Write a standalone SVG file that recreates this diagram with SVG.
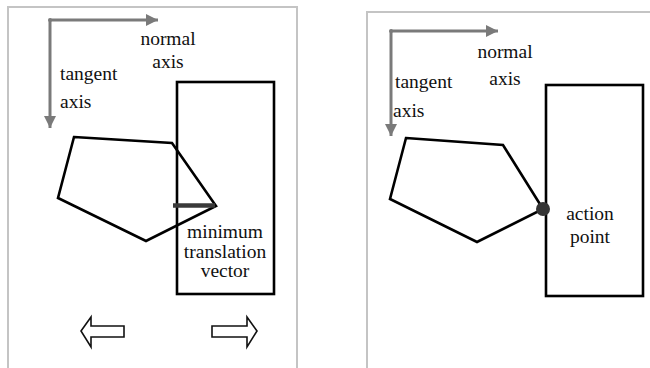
<svg xmlns="http://www.w3.org/2000/svg" width="650" height="368" viewBox="0 0 650 368">
  <defs>
    <style>
      .frame { fill: none; stroke: #c4c4c4; stroke-width: 2; }
      .axis { fill: none; stroke: #7a7a7a; stroke-width: 3; }
      .shape { fill: none; stroke: #000; stroke-width: 2.6; stroke-linejoin: miter; }
      .hollow { fill: #fff; stroke: #111; stroke-width: 1.6; stroke-linejoin: miter; }
      text { font-family: 'Liberation Serif', 'DejaVu Serif', serif; font-size: 19.5px; fill: #111; }
      .mid { text-anchor: middle; }
    </style>
    <marker id="axisHead" viewBox="0 0 10 10" refX="10" refY="5" markerWidth="4" markerHeight="4" orient="auto" markerUnits="strokeWidth">
      <path d="M0,0 L10,5 L0,10 Z" fill="#7a7a7a"/>
    </marker>
  </defs>

  <rect width="650" height="368" fill="#fff"/>

  <!-- left panel: overlap with minimum translation vector -->
  <g id="left-panel">
    <path class="frame" d="M8,369 V7 H297 V369"/>
    <g id="left-axes">
      <circle cx="50" cy="20" r="2" fill="#7a7a7a"/>
      <line class="axis" x1="50" y1="20" x2="158" y2="20" marker-end="url(#axisHead)"/>
      <line class="axis" x1="50" y1="20" x2="50" y2="128" marker-end="url(#axisHead)"/>
      <text class="mid" x="168" y="45" font-family="Liberation Serif, serif">normal</text>
      <text class="mid" x="168" y="68" font-family="Liberation Serif, serif">axis</text>
      <text x="60" y="80" font-family="Liberation Serif, serif">tangent</text>
      <text x="60" y="108" font-family="Liberation Serif, serif">axis</text>
    </g>
    <g id="left-rect">
      <rect class="shape" x="177" y="82" width="97" height="212"/>
    </g>
    <g id="left-polygon">
      <polygon class="shape" points="74,137 172,143 216,206 146,241 58,198"/>
    </g>
    <g id="mtv">
      <line x1="173" y1="205.5" x2="215" y2="205.5" stroke="#3a3a3a" stroke-width="4.5"/>
      <text class="mid" x="225" y="238" font-family="Liberation Serif, serif">minimum</text>
      <text class="mid" x="225" y="258" font-family="Liberation Serif, serif">translation</text>
      <text class="mid" x="225" y="277" font-family="Liberation Serif, serif">vector</text>
    </g>
    <g id="move-left">
      <polygon class="hollow" points="81,331 91,317 91,326 124,326 124,337 91,337 91,347"/>
    </g>
    <g id="move-right">
      <polygon class="hollow" points="257,331 247,317 247,326 212,326 212,337 247,337 247,347"/>
    </g>
  </g>

  <!-- right panel: touching contact with action point -->
  <g id="right-panel">
    <path class="frame" d="M367,369 V12 H651"/>
    <g id="right-axes">
      <circle cx="391" cy="31" r="2" fill="#7a7a7a"/>
      <line class="axis" x1="391" y1="31" x2="498" y2="31" marker-end="url(#axisHead)"/>
      <line class="axis" x1="391" y1="31" x2="391" y2="136" marker-end="url(#axisHead)"/>
      <text class="mid" x="505" y="58" font-family="Liberation Serif, serif">normal</text>
      <text class="mid" x="505" y="85" font-family="Liberation Serif, serif">axis</text>
      <text x="395" y="88" font-family="Liberation Serif, serif">tangent</text>
      <text x="393" y="117" font-family="Liberation Serif, serif">axis</text>
    </g>
    <g id="right-rect">
      <rect class="shape" x="546" y="85" width="97" height="211"/>
    </g>
    <g id="right-polygon">
      <polygon class="shape" points="406,138 503,145 543,209 477,242 390,199"/>
    </g>
    <g id="action-point">
      <circle cx="543" cy="209" r="7" fill="#333"/>
      <text class="mid" x="590" y="220" font-family="Liberation Serif, serif">action</text>
      <text class="mid" x="590" y="243" font-family="Liberation Serif, serif">point</text>
    </g>
  </g>
</svg>
